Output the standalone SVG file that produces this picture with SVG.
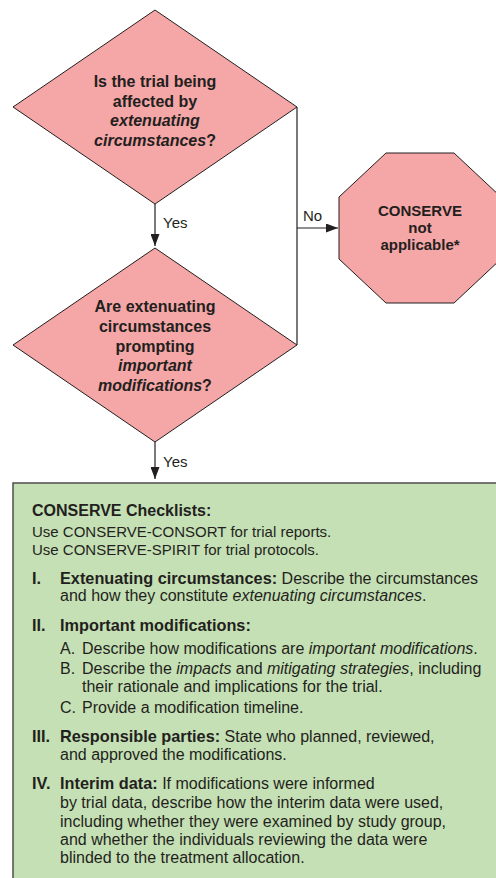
<svg xmlns="http://www.w3.org/2000/svg" width="496" height="878" viewBox="0 0 496 878">
<style>
  text { font-family: "Liberation Sans", Arial, sans-serif; fill: #231f20; }
  .shape { fill: #f5a6a6; stroke: #231f20; stroke-width: 1; }
  .box { fill: #c5e0b4; stroke: #4d4d4d; stroke-width: 1.5; }
  .q { font-size: 16px; font-weight: bold; text-anchor: middle; }
  .oct { font-size: 15px; font-weight: bold; text-anchor: middle; }
  .lbl { font-size: 15px; }
  .conn { stroke: #231f20; stroke-width: 1.2; fill: none; }
  .h { font-size: 16.3px; font-weight: bold; }
  .b { font-size: 16px; }
  .u { font-size: 15px; }
  .i { font-style: italic; }
</style>
<defs>
  <marker id="arr" viewBox="0 0 12 9" refX="12" refY="4.5" markerWidth="12" markerHeight="9" markerUnits="userSpaceOnUse" orient="auto">
    <path d="M0,0 L12,4.5 L0,9 Z" fill="#231f20"/>
  </marker>
</defs>

<g id="connectors">
  <line class="conn" x1="155" y1="204" x2="155" y2="246" marker-end="url(#arr)"/>
  <line class="conn" x1="155" y1="442" x2="155" y2="479" marker-end="url(#arr)"/>
  <line class="conn" x1="297" y1="107" x2="297" y2="345"/>
  <line class="conn" x1="297" y1="228" x2="338" y2="228" marker-end="url(#arr)"/>
  <text class="lbl" x="163" y="228">Yes</text>
  <text class="lbl" x="163" y="467">Yes</text>
  <text class="lbl" x="303" y="221">No</text>
</g>

<g id="q1">
  <polygon class="shape" points="155,10 297,107 155,204 13,107"/>
  <text class="q" x="155" y="87">Is the trial being</text>
  <text class="q" x="155" y="106.5">affected by</text>
  <text class="q i" x="155" y="126">extenuating</text>
  <text class="q" x="155" y="145.5"><tspan class="i">circumstances</tspan>?</text>
</g>

<g id="notapplicable">
  <polygon class="shape" points="386,153 454,153 501,197 501,259 454,303 386,303 339,259 339,197"/>
  <text class="oct" x="420" y="216">CONSERVE</text>
  <text class="oct" x="420" y="233">not</text>
  <text class="oct" x="420" y="250">applicable*</text>
</g>

<g id="q2">
  <polygon class="shape" points="155,248 297,345 155,442 13,345"/>
  <text class="q" x="155" y="312">Are extenuating</text>
  <text class="q" x="155" y="331.8">circumstances</text>
  <text class="q" x="155" y="351.6">prompting</text>
  <text class="q i" x="155" y="371.4">important</text>
  <text class="q" x="155" y="391.2"><tspan class="i">modifications</tspan>?</text>
</g>

<g id="checklist">
  <rect class="box" x="13" y="483" width="500" height="420"/>
  <text class="h" x="32" y="516" style="font-size:16px">CONSERVE Checklists:</text>
  <text class="u" x="32" y="537">Use CONSERVE-CONSORT for trial reports.</text>
  <text class="u" x="32" y="554.5">Use CONSERVE-SPIRIT for trial protocols.</text>

  <text class="h" x="32" y="584">I.</text>
  <text x="60" y="584"><tspan class="h">Extenuating circumstances:</tspan><tspan class="b"> Describe the circumstances</tspan></text>
  <text class="b" x="60" y="601">and how they constitute <tspan class="i">extenuating circumstances</tspan>.</text>

  <text class="h" x="32" y="631">II.</text>
  <text class="h" x="60" y="631">Important modifications:</text>
  <text class="b" x="60" y="654">A.</text>
  <text class="b" x="82" y="654">Describe how modifications are <tspan class="i">important modifications</tspan>.</text>
  <text class="b" x="60" y="674">B.</text>
  <text class="b" x="82" y="674">Describe the <tspan class="i">impacts</tspan> and <tspan class="i">mitigating strategies</tspan>, including</text>
  <text class="b" x="82" y="692">their rationale and implications for the trial.</text>
  <text class="b" x="60" y="713">C.</text>
  <text class="b" x="82" y="713">Provide a modification timeline.</text>

  <text class="h" x="32" y="742">III.</text>
  <text x="60" y="742"><tspan class="h">Responsible parties:</tspan><tspan class="b"> State who planned, reviewed,</tspan></text>
  <text class="b" x="60" y="759.5">and approved the modifications.</text>

  <text class="h" x="32" y="789">IV.</text>
  <text x="60" y="789"><tspan class="h">Interim data:</tspan><tspan class="b"> If modifications were informed</tspan></text>
  <text class="b" x="60" y="808">by trial data, describe how the interim data were used,</text>
  <text class="b" x="60" y="826.5">including whether they were examined by study group,</text>
  <text class="b" x="60" y="845">and whether the individuals reviewing the data were</text>
  <text class="b" x="60" y="862.5">blinded to the treatment allocation.</text>
</g>
</svg>
